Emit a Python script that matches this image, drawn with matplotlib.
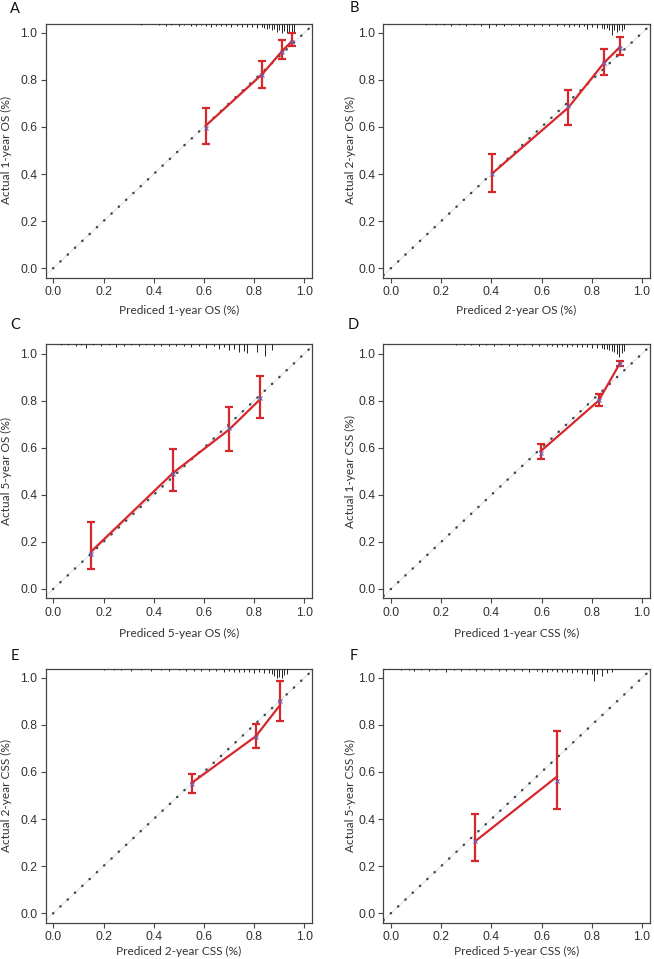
# calibration curves, 6 panels (OS / CSS at 1, 2, 5 years)

import matplotlib
matplotlib.use("Agg")
import matplotlib.pyplot as plt

# ---- data ----
letters = ["A", "B", "C", "D", "E", "F"]
x_labels = ["Prediced 1-year OS (%)", "Prediced 2-year OS (%)", "Prediced 5-year OS (%)",
            "Prediced 1-year CSS (%)", "Prediced 2-year CSS (%)", "Prediced 5-year CSS (%)"]
y_labels = ["Actual 1-year OS (%)", "Actual 2-year OS (%)", "Actual 5-year OS (%)",
            "Actual 1-year CSS (%)", "Actual 2-year CSS (%)", "Actual 5-year CSS (%)"]

a_pred = [0.607, 0.831, 0.911, 0.952]
a_obs = [0.605, 0.823, 0.922, 0.966]
a_lo = [0.526, 0.764, 0.890, 0.943]
a_hi = [0.682, 0.882, 0.970, 0.999]
a_corr = [0.594, 0.823, 0.918, 0.962]

b_pred = [0.404, 0.707, 0.848, 0.912]
b_obs = [0.403, 0.683, 0.872, 0.940]
b_lo = [0.322, 0.609, 0.821, 0.904]
b_hi = [0.485, 0.759, 0.930, 0.981]
b_corr = [0.398, 0.690, 0.870, 0.935]

c_pred = [0.152, 0.478, 0.701, 0.824]
c_obs = [0.160, 0.494, 0.678, 0.806]
c_lo = [0.085, 0.415, 0.586, 0.728]
c_hi = [0.283, 0.593, 0.774, 0.906]
c_corr = [0.150, 0.488, 0.685, 0.812]

d_pred = [0.596, 0.827, 0.912]
d_obs = [0.585, 0.800, 0.959]
d_lo = [0.551, 0.778, 0.948]
d_hi = [0.615, 0.827, 0.969]
d_corr = [0.577, 0.805, 0.955]

e_pred = [0.551, 0.807, 0.903]
e_obs = [0.553, 0.752, 0.884]
e_lo = [0.511, 0.700, 0.816]
e_hi = [0.590, 0.806, 0.986]
e_corr = [0.547, 0.748, 0.900]

f_pred = [0.335, 0.661]
f_obs = [0.305, 0.580]
f_lo = [0.221, 0.443]
f_hi = [0.421, 0.776]
f_corr = [0.308, 0.562]

# rug (distribution of predictions): position and relative height (px)
a_rug_x = [0.35, 0.42, 0.45, 0.47, 0.50, 0.52, 0.55, 0.57, 0.59, 0.61, 0.63, 0.65, 0.67, 0.69,
           0.71, 0.73, 0.75, 0.77, 0.79, 0.81, 0.83, 0.84, 0.85, 0.86, 0.87, 0.88, 0.89, 0.90,
           0.91, 0.92, 0.93, 0.94, 0.95, 0.96]
a_rug_h = [1, 1, 2, 1, 2, 1, 2, 2, 1, 2, 3, 2, 2, 2, 3, 2, 3, 3, 3, 4, 3, 4, 5, 4, 6, 5, 8, 6,
           9, 7, 9, 8, 9, 8]

b_rug_x = [0.14, 0.18, 0.21, 0.24, 0.27, 0.30, 0.33, 0.36, 0.39, 0.42, 0.45, 0.48, 0.51, 0.54,
           0.57, 0.60, 0.63, 0.66, 0.69, 0.71, 0.73, 0.75, 0.77, 0.78, 0.80, 0.82, 0.84, 0.85,
           0.86, 0.87, 0.88, 0.89, 0.90, 0.91, 0.92, 0.93]
b_rug_h = [1, 1, 1, 2, 1, 2, 1, 2, 4, 2, 2, 1, 2, 2, 2, 2, 2, 2, 2, 3, 2, 3, 2, 5, 3, 4, 4, 5,
           4, 6, 11, 6, 8, 6, 7, 5]

c_rug_x = [0.03, 0.06, 0.09, 0.11, 0.13, 0.16, 0.19, 0.22, 0.25, 0.28, 0.31, 0.34, 0.37, 0.40,
           0.43, 0.46, 0.49, 0.52, 0.55, 0.58, 0.61, 0.64, 0.66, 0.68, 0.70, 0.72, 0.74, 0.76,
           0.77, 0.81, 0.845, 0.87]
c_rug_h = [1, 1, 2, 1, 4, 1, 2, 1, 3, 2, 1, 2, 1, 2, 2, 2, 2, 2, 3, 2, 4, 2, 5, 3, 6, 5, 8, 7,
           9, 8, 12, 6]

d_rug_x = [0.26, 0.29, 0.32, 0.35, 0.38, 0.41, 0.44, 0.47, 0.50, 0.53, 0.56, 0.59, 0.62, 0.64,
           0.66, 0.68, 0.70, 0.72, 0.74, 0.76, 0.78, 0.80, 0.82, 0.84, 0.85, 0.86, 0.87, 0.88,
           0.89, 0.90, 0.91, 0.92, 0.93]
d_rug_h = [1, 1, 1, 2, 1, 2, 1, 2, 2, 1, 2, 2, 2, 2, 3, 2, 3, 2, 3, 3, 3, 4, 4, 4, 5, 5, 6, 7,
           8, 10, 13, 9, 7]

e_rug_x = [0.20, 0.24, 0.27, 0.31, 0.35, 0.39, 0.43, 0.46, 0.50, 0.53, 0.56, 0.59, 0.62, 0.65,
           0.68, 0.70, 0.72, 0.74, 0.76, 0.78, 0.80, 0.82, 0.84, 0.86, 0.87, 0.88, 0.89, 0.90,
           0.91, 0.92, 0.93]
e_rug_h = [1, 1, 1, 2, 1, 2, 1, 2, 1, 2, 2, 2, 2, 2, 3, 2, 3, 3, 3, 3, 4, 3, 4, 4, 5, 7, 9, 8,
           9, 6, 5]

f_rug_x = [0.04, 0.07, 0.09, 0.12, 0.15, 0.18, 0.22, 0.25, 0.28, 0.31, 0.34, 0.37, 0.40, 0.43,
           0.46, 0.49, 0.52, 0.55, 0.58, 0.60, 0.62, 0.64, 0.66, 0.68, 0.70, 0.72, 0.74, 0.76,
           0.78, 0.80, 0.81, 0.82, 0.84, 0.86, 0.88]
f_rug_h = [1, 1, 2, 1, 2, 1, 3, 1, 2, 1, 2, 2, 1, 2, 2, 2, 2, 3, 2, 3, 3, 2, 3, 3, 3, 4, 3, 4,
           5, 5, 12, 5, 7, 4, 3]

panels = [
    (a_pred, a_obs, a_lo, a_hi, a_corr, a_rug_x, a_rug_h),
    (b_pred, b_obs, b_lo, b_hi, b_corr, b_rug_x, b_rug_h),
    (c_pred, c_obs, c_lo, c_hi, c_corr, c_rug_x, c_rug_h),
    (d_pred, d_obs, d_lo, d_hi, d_corr, d_rug_x, d_rug_h),
    (e_pred, e_obs, e_lo, e_hi, e_corr, e_rug_x, e_rug_h),
    (f_pred, f_obs, f_lo, f_hi, f_corr, f_rug_x, f_rug_h),
]

ticks = [0.0, 0.2, 0.4, 0.6, 0.8, 1.0]
tick_labels = ["0.0", "0.2", "0.4", "0.6", "0.8", "1.0"]

RED = "#d8272b"
GREY = "#333333"
W, H = 654, 959

fig = plt.figure(figsize=(W / 100, H / 100), dpi=100)

col_left = [45.8, 383.5]
row_top = [23.5, 344.3, 668.5]
xlab_y = [-0.11, -0.115, -0.092]
ylab_x = [-0.127, -0.103]
ax_w, ax_h = 266, 254
xlim = (-0.03, 1.03)
ylim = (-0.04, 1.04)
px_per_y = ax_h / (ylim[1] - ylim[0])

for i, (pred, obs, lo, hi, corr, rug_x, rug_h) in enumerate(panels):
    col = i % 2
    row = i // 2
    left = col_left[col]
    top = row_top[row]
    ax = fig.add_axes([left / W, (H - top - ax_h) / H, ax_w / W, ax_h / H])
    ax.set_xlim(xlim)
    ax.set_ylim(ylim)

    # ideal line: faint line with grey dots
    ax.plot(xlim, xlim, color="#d5dee2", lw=0.6, zorder=1)
    ax.plot(xlim, xlim, color="#3a4a50", lw=1.8, linestyle=(0, (0.1, 3.9)),
            dash_capstyle="round", zorder=2)

    # rug along the top
    for rx, rh in zip(rug_x, rug_h):
        ax.plot([rx, rx], [ylim[1], ylim[1] - rh / px_per_y], color="#222222",
                lw=0.7, zorder=3, solid_capstyle="butt")

    # observed curve with error bars
    ax.plot(pred, obs, color=RED, lw=1.6, zorder=4)
    ax.errorbar(pred, obs, yerr=[[o - l for o, l in zip(obs, lo)], [h - o for o, h in zip(obs, hi)]],
                fmt="none", ecolor=RED, elinewidth=1.6, capsize=3, capthick=1.6, zorder=5)
    ax.plot(pred, corr, linestyle="none", marker="x", color="#6b5fb5", ms=3.5, mew=0.8, zorder=6)

    for s in ax.spines.values():
        s.set_color("#444444")
        s.set_linewidth(0.9)
    ax.set_xticks(ticks)
    ax.set_xticklabels(tick_labels)
    ax.set_yticks(ticks)
    ax.set_yticklabels(tick_labels)
    ax.tick_params(length=3.5, width=0.8, color="#444444", labelsize=8.7, labelcolor=GREY, pad=2.5)
    for lab in ax.get_xticklabels() + ax.get_yticklabels():
        lab.set_family("Liberation Sans")

    ax.set_xlabel(x_labels[i], family="Lato", fontsize=8.6, color=GREY)
    ax.set_ylabel(y_labels[i], family="Lato", fontsize=8.6, color=GREY)
    ax.xaxis.set_label_coords(0.5, xlab_y[row])
    ax.yaxis.set_label_coords(ylab_x[col], 0.5)

letter_pos = [(10, 9), (350, 8), (10, 325), (348, 325), (11, 656), (350, 656)]
for letter, (lx, ly) in zip(letters, letter_pos):
    fig.text(lx / W, 1 - ly / H, letter, family="Lato", fontsize=10.5, color="#111111",
             ha="left", va="center")

fig.savefig("out.png", dpi=100)
